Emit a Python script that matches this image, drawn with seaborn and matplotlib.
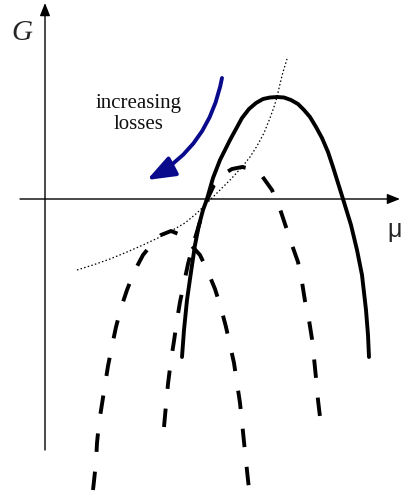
import numpy as np
import pandas as pd
import seaborn as sns
import matplotlib.pyplot as plt

# curves: mu on the horizontal axis, G on the vertical
solid_mu = [1.37, 1.39, 1.42, 1.46, 1.50, 1.54, 1.58, 1.62, 1.68, 1.75, 1.80, 1.85, 1.91,
            1.97, 2.04, 2.11, 2.18, 2.25, 2.32, 2.39, 2.46, 2.53, 2.59, 2.65, 2.71, 2.77,
            2.83, 2.88, 2.98, 3.06, 3.12, 3.17, 3.21, 3.23, 3.24]
solid_G = [-1.58, -1.31, -1.01, -0.73, -0.46, -0.26, -0.11, 0.00, 0.21, 0.39, 0.49, 0.59,
           0.70, 0.81, 0.90, 0.96, 1.00, 1.015, 1.02, 1.015, 0.99, 0.95, 0.89, 0.82, 0.72,
           0.61, 0.47, 0.32, 0.00, -0.26, -0.51, -0.76, -1.11, -1.36, -1.58]

mid_mu = [1.19, 1.21, 1.23, 1.26, 1.29, 1.32, 1.35, 1.39, 1.43, 1.48, 1.54, 1.62, 1.69, 1.77,
          1.87, 1.97, 2.07, 2.17, 2.27, 2.34, 2.40, 2.47, 2.53, 2.57, 2.60, 2.64, 2.67, 2.69,
          2.71, 2.73, 2.75, 2.76]
mid_G = [-2.28, -2.06, -1.85, -1.61, -1.42, -1.21, -1.03, -0.84, -0.65, -0.46, -0.26, -0.01,
         0.14, 0.24, 0.30, 0.32, 0.30, 0.23, 0.09, -0.07, -0.25, -0.46, -0.63, -0.83, -1.02,
         -1.21, -1.40, -1.59, -1.79, -2.01, -2.18, -2.27]

low_mu = [0.48, 0.49, 0.51, 0.52, 0.54, 0.57, 0.60, 0.63, 0.67, 0.71, 0.76, 0.82, 0.89, 0.98,
          1.07, 1.16, 1.26, 1.36, 1.45, 1.55, 1.63, 1.70, 1.76, 1.81, 1.85, 1.89, 1.92, 1.95,
          1.97, 1.99, 2.01, 2.03, 2.04]
low_G = [-2.91, -2.82, -2.63, -2.44, -2.24, -2.05, -1.86, -1.67, -1.47, -1.28, -1.09, -0.91,
         -0.73, -0.56, -0.45, -0.36, -0.32, -0.36, -0.45, -0.56, -0.73, -0.90, -1.09, -1.28,
         -1.46, -1.64, -1.84, -2.04, -2.23, -2.43, -2.62, -2.81, -2.90]

peak_mu = [0.32, 0.48, 0.65, 0.82, 0.98, 1.15, 1.26, 1.40, 1.52, 1.65, 1.75, 1.86, 1.97, 2.05,
           2.12, 2.19, 2.25, 2.29, 2.32, 2.35, 2.38, 2.42]
peak_G = [-0.71, -0.66, -0.60, -0.53, -0.46, -0.38, -0.32, -0.24, -0.14, -0.01, 0.09, 0.20,
          0.32, 0.42, 0.53, 0.66, 0.81, 0.92, 1.02, 1.15, 1.27, 1.40]

sns.set_theme(style="white")
plt.rcParams['font.family'] = ['Liberation Serif', 'DejaVu Serif']

fig = plt.figure(figsize=(4.02, 4.95), dpi=100)
ax = fig.add_axes([0, 0, 1, 1])
ax.set_xlim(-0.45, 3.57)
ax.set_ylim(-2.96, 1.99)
ax.axis('off')

# coordinate axes with arrow heads
axis_style = dict(arrowstyle='-|>,head_length=0.55,head_width=0.22', lw=1.0,
                  color='black', shrinkA=0, shrinkB=0, mutation_scale=14)
ax.annotate('', xy=(0, 1.96), xytext=(0, -2.51), arrowprops=axis_style)
ax.annotate('', xy=(3.55, 0), xytext=(-0.25, 0), arrowprops=axis_style)

dash = (0, (4.75, 5.1))
sns.lineplot(x=low_mu, y=low_G, sort=False, estimator=None, color='black', lw=2.8,
             linestyle=dash, ax=ax)
sns.lineplot(x=mid_mu, y=mid_G, sort=False, estimator=None, color='black', lw=2.8,
             linestyle=dash, ax=ax)
sns.lineplot(x=solid_mu, y=solid_G, sort=False, estimator=None, color='black', lw=2.8, ax=ax)
sns.lineplot(x=peak_mu, y=peak_G, sort=False, estimator=None, color='black', lw=0.9,
             linestyle=(0, (1.2, 1.8)), ax=ax)

# curved blue arrow
ax.annotate('', xy=(1.02, 0.19), xytext=(1.77, 1.21),
            arrowprops=dict(arrowstyle='-|>,head_length=0.85,head_width=0.32', lw=2.8,
                            color='#0a0a8c', shrinkA=0, shrinkB=0, mutation_scale=20,
                            connectionstyle='arc3,rad=-0.24'))
ax.text(0.94, 0.85, 'increasing\nlosses', ha='center', va='center', fontsize=15,
        color='#111111')

ax.text(-0.235, 1.66, 'G', ha='center', va='center', fontsize=21, style='italic')
ax.text(3.42, -0.38, 'μ', ha='left', va='baseline', fontsize=18,
        family=['Liberation Sans', 'DejaVu Sans'])

plt.savefig('out.png', dpi=100)
